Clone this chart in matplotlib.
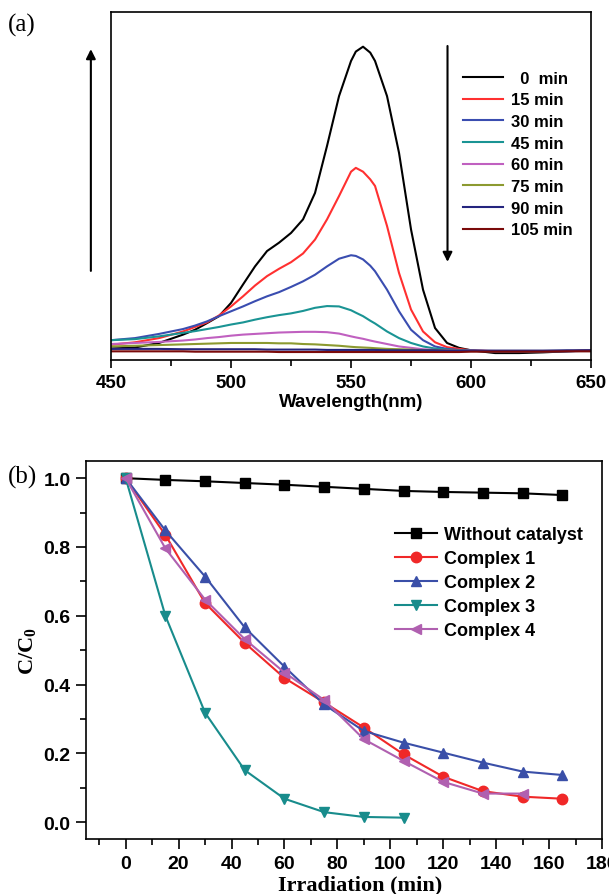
import matplotlib
matplotlib.use('Agg')
from matplotlib import pyplot as plt
from matplotlib.ticker import MultipleLocator

plt.rcParams['font.family'] = ['Liberation Sans', 'DejaVu Sans']
plt.rcParams['font.weight'] = 'bold'
plt.rcParams['mathtext.fontset'] = 'custom'
plt.rcParams['mathtext.rm'] = 'Liberation Serif'
plt.rcParams['mathtext.bf'] = 'Liberation Serif:bold'

# ---- (a) UV-vis spectra, absorbance in arbitrary units ----
wavelength = [450, 460, 470, 480, 485, 490, 495, 500, 505, 510, 515, 520, 525,
              530, 535, 540, 545, 550, 552, 555, 558, 560, 565, 570, 575, 580,
              585, 590, 595, 600, 610, 620, 630, 640, 650]
abs_0 = [0.032, 0.035, 0.048, 0.072, 0.086, 0.105, 0.125, 0.163, 0.216, 0.268,
         0.312, 0.336, 0.364, 0.403, 0.479, 0.614, 0.757, 0.858, 0.885, 0.899,
         0.882, 0.858, 0.757, 0.594, 0.374, 0.201, 0.091, 0.048, 0.034, 0.027,
         0.019, 0.019, 0.021, 0.024, 0.027]
abs_15 = [0.043, 0.050, 0.062, 0.081, 0.094, 0.107, 0.127, 0.153, 0.182, 0.213,
          0.240, 0.261, 0.280, 0.305, 0.345, 0.403, 0.470, 0.540, 0.551, 0.540,
          0.518, 0.499, 0.384, 0.249, 0.144, 0.081, 0.050, 0.036, 0.031, 0.027,
          0.024, 0.024, 0.024, 0.025, 0.027]
abs_30 = [0.056, 0.062, 0.074, 0.088, 0.098, 0.110, 0.125, 0.139, 0.153, 0.168,
          0.182, 0.194, 0.209, 0.225, 0.244, 0.268, 0.290, 0.300, 0.298, 0.288,
          0.270, 0.254, 0.201, 0.139, 0.086, 0.056, 0.038, 0.031, 0.028, 0.026,
          0.024, 0.024, 0.024, 0.024, 0.026]
abs_45 = [0.056, 0.059, 0.067, 0.077, 0.082, 0.088, 0.094, 0.101, 0.107, 0.115,
          0.122, 0.128, 0.133, 0.140, 0.149, 0.154, 0.153, 0.142, 0.135, 0.125,
          0.112, 0.104, 0.081, 0.062, 0.048, 0.038, 0.032, 0.029, 0.027, 0.026,
          0.024, 0.024, 0.024, 0.025, 0.025]
abs_60 = [0.045, 0.048, 0.051, 0.055, 0.058, 0.062, 0.065, 0.069, 0.072, 0.074,
          0.076, 0.078, 0.079, 0.080, 0.080, 0.079, 0.075, 0.067, 0.064, 0.060,
          0.055, 0.052, 0.045, 0.038, 0.034, 0.030, 0.028, 0.027, 0.026, 0.026,
          0.025, 0.025, 0.025, 0.025, 0.025]
abs_75 = [0.038, 0.040, 0.042, 0.044, 0.045, 0.046, 0.047, 0.048, 0.048, 0.048,
          0.048, 0.047, 0.047, 0.045, 0.044, 0.042, 0.040, 0.037, 0.036, 0.035,
          0.034, 0.033, 0.031, 0.030, 0.029, 0.027, 0.027, 0.026, 0.026, 0.025,
          0.025, 0.025, 0.025, 0.025, 0.025]
abs_90 = [0.031, 0.031, 0.031, 0.030, 0.030, 0.030, 0.030, 0.030, 0.030, 0.030,
          0.029, 0.029, 0.029, 0.029, 0.029, 0.028, 0.028, 0.028, 0.028, 0.028,
          0.028, 0.028, 0.027, 0.027, 0.027, 0.027, 0.027, 0.026, 0.026, 0.026,
          0.026, 0.026, 0.026, 0.027, 0.027]
abs_105 = [0.024, 0.024, 0.024, 0.024, 0.023, 0.023, 0.023, 0.023, 0.023, 0.023,
           0.023, 0.022, 0.022, 0.022, 0.022, 0.022, 0.022, 0.022, 0.022, 0.022,
           0.022, 0.022, 0.022, 0.022, 0.022, 0.022, 0.022, 0.022, 0.022, 0.023,
           0.023, 0.023, 0.023, 0.024, 0.024]
spectra = [abs_0, abs_15, abs_30, abs_45, abs_60, abs_75, abs_90, abs_105]
spec_labels = ['  0  min', '15 min', '30 min', '45 min', '60 min', '75 min',
               '90 min', '105 min']
spec_colors = ['#000000', '#ff3030', '#3a4db0', '#1a9494', '#c060c0',
               '#8c9a30', '#24247e', '#7a0a0a']

# ---- (b) C/C0 vs irradiation time ----
time = [0, 15, 30, 45, 60, 75, 90, 105, 120, 135, 150, 165]
without_cat = [1.0, 0.995, 0.991, 0.986, 0.981, 0.975, 0.969, 0.963, 0.960,
               0.958, 0.956, 0.951]
complex1 = [1.0, 0.835, 0.637, 0.521, 0.419, 0.348, 0.275, 0.197, 0.132,
            0.090, 0.074, 0.068]
complex2 = [1.0, 0.848, 0.714, 0.566, 0.452, 0.342, 0.265, 0.231, 0.202,
            0.173, 0.147, 0.137]
complex3 = [1.0, 0.600, 0.318, 0.151, 0.068, 0.029, 0.015, 0.013]
complex4 = [1.0, 0.796, 0.647, 0.532, 0.435, 0.355, 0.241, 0.178, 0.117,
            0.083, 0.083]

fig = plt.figure(figsize=(6.09, 8.95), dpi=100)

# panel (a)
ax1 = fig.add_axes([0.1823, 0.597, 0.7882, 0.389])
for ys, lab, c in zip(spectra, spec_labels, spec_colors):
    ax1.plot(wavelength, ys, color=c, lw=1.5, label=lab)
ax1.set_xlim(450, 650)
ax1.set_ylim(0, 1)
ax1.xaxis.set_major_locator(MultipleLocator(50))
ax1.xaxis.set_minor_locator(MultipleLocator(25))
ax1.tick_params(axis='x', which='major', direction='out', length=6, width=1.2,
                labelsize=13.5, pad=4)
ax1.tick_params(axis='x', which='minor', direction='out', length=4, width=1.2)
ax1.set_yticks([])
for s in ax1.spines.values():
    s.set_linewidth(1.2)
ax1.set_xlabel('Wavelength(nm)', fontsize=13.5, fontweight='bold', labelpad=2)
ax1.legend(loc='upper left', bbox_to_anchor=(0.733, 0.830), frameon=False,
           fontsize=12, handlelength=2.4, handletextpad=0.5, labelspacing=0.4,
           borderpad=0, borderaxespad=0)
# arrows showing the direction of change
ax1.annotate('', xy=(-0.042, 0.892), xytext=(-0.042, 0.255),
             xycoords='axes fraction', annotation_clip=False,
             arrowprops=dict(arrowstyle='-|>', lw=1.5, color='black',
                             mutation_scale=14, shrinkA=0, shrinkB=0))
ax1.annotate('', xy=(0.701, 0.281), xytext=(0.701, 0.901),
             xycoords='axes fraction',
             arrowprops=dict(arrowstyle='-|>', lw=1.5, color='black',
                             mutation_scale=14, shrinkA=0, shrinkB=0))
fig.text(0.013, 0.972, '(a)', fontsize=18, fontweight='normal',
         family='Liberation Serif', va='center')

# panel (b)
ax2 = fig.add_axes([0.1412, 0.0611, 0.8473, 0.4227])
ax2.plot(time, without_cat, '-s', color='#000000', lw=1.5, ms=7,
         label='Without catalyst')
ax2.plot(time, complex1, '-o', color='#f02828', lw=1.5, ms=7.5,
         label='Complex 1')
ax2.plot(time, complex2, '-^', color='#3a4fa8', lw=1.5, ms=7.5,
         label='Complex 2')
ax2.plot(time[:len(complex3)], complex3, '-v', color='#188c8c', lw=1.5,
         ms=7.5, label='Complex 3')
ax2.plot(time[:len(complex4)], complex4, '-<', color='#b060b0', lw=1.5,
         ms=7.5, label='Complex 4')
ax2.set_xlim(-15, 180)
ax2.set_ylim(-0.05, 1.05)
ax2.xaxis.set_major_locator(MultipleLocator(20))
ax2.xaxis.set_minor_locator(MultipleLocator(10))
ax2.yaxis.set_major_locator(MultipleLocator(0.2))
ax2.yaxis.set_minor_locator(MultipleLocator(0.1))
ax2.tick_params(which='major', direction='out', length=7, width=1.2,
                labelsize=14, pad=4)
ax2.tick_params(which='minor', direction='out', length=4, width=1.2)
for s in ax2.spines.values():
    s.set_linewidth(1.2)
ax2.set_xlabel('Irradiation (min)', fontsize=16, fontweight='bold',
               family='Liberation Serif', labelpad=1)
ax2.xaxis.set_label_coords(0.531, -0.094)
ax2.set_ylabel(r'$\mathbf{C/C_0}$', fontsize=16, labelpad=4)
ax2.legend(loc='upper left', bbox_to_anchor=(0.599, 0.827), frameon=False,
           fontsize=13, handlelength=2.3, handletextpad=0.4, labelspacing=0.38,
           borderpad=0, borderaxespad=0)
fig.text(0.013, 0.466, '(b)', fontsize=18, fontweight='normal',
         family='Liberation Serif', va='center')

fig.savefig('out.png', dpi=100)
